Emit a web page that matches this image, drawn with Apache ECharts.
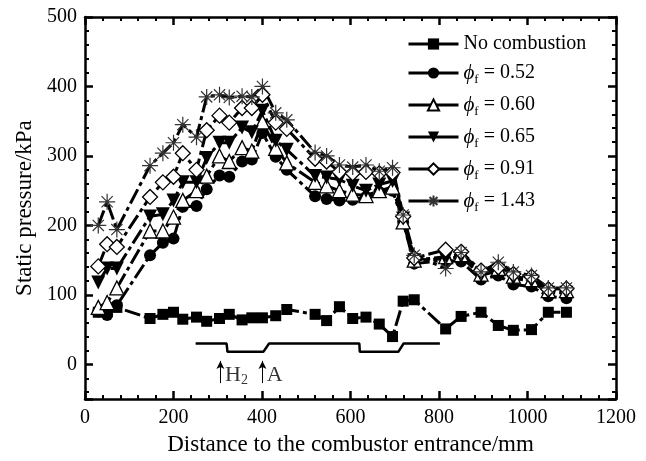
<!DOCTYPE html>
<html><head><meta charset="utf-8">
<script src="https://cdn.jsdelivr.net/npm/echarts@6/dist/echarts.min.js"></script>
<style>html,body{margin:0;padding:0;background:#fff}#c{width:646px;height:461px}</style>
</head><body><div id="c"></div>
<script>
// ---- data ----
const xPos = [30,50,72,147,176,200,221,252,275,304,326,355,377,401,431,456,520,546,575,605,635,665,695,719,744,815,850,895,934,968,1009,1047,1088];
const noComb = [75,76,82,66,72,75,65,68,62,66,72,64,67,67,70,79,72,63,83,66,68,58,40,91,93,51,69,75,56,49,50,75,75];
const phi052 = [76,71,85,157,175,181,227,228,252,272,270,292,295,333,299,280,242,238,236,237,241,248,250,205,145,150,148,122,128,115,112,98,95];
const phi060 = [82,89,110,192,192,212,236,250,271,300,292,312,307,349,311,290,262,257,250,245,243,250,255,205,150,155,158,130,138,127,122,106,106];
const phi065 = [118,138,138,213,216,236,262,262,297,319,319,341,334,365,322,309,271,269,266,257,250,259,264,210,150,152,155,128,135,124,120,103,103];
const phi091 = [141,173,169,241,262,270,304,280,337,358,348,369,369,388,348,339,296,292,277,275,277,275,276,213,153,165,162,135,140,130,126,108,109];
const phi143 = [200,234,194,286,304,319,345,327,385,388,384,386,385,400,362,352,305,300,287,284,287,278,283,215,157,138,161,133,147,133,128,110,110];
const geomX = [250,320,322,403,416,620,621,708,720,802];
const geomY = [30,30,18,18,30,30,18,18,30,30];
const seriesNames = ['No combustion','0.52','0.60','0.65','0.91','1.43'];
const xTicks = [0,200,400,600,800,1000,1200];
const yTicks = [0,100,200,300,400,500];

const F = '"Liberation Serif","Times New Roman",serif';
const chart = echarts.init(document.getElementById('c'));
const pairs = (xs, ys) => xs.map((x, i) => [x, ys[i]]);
const lineStyle = {color:'#000', width:3, type:[16,4,4,4]};
const starPath = 'path://M10 0L10 20M0 10L20 10M3 3L17 17M3 17L17 3';

function mk(name, ys, symbol, size, fill, extra) {
  return Object.assign({
    name: name, type:'line', data: pairs(xPos, ys),
    symbol: symbol, symbolSize: size,
    lineStyle: lineStyle,
    itemStyle: {color: fill, borderColor:'#000', borderWidth: fill === '#000' ? 0 : 1.3},
    color:'#000', z: 3, animation:false
  }, extra || {});
}

const axisCommon = {
  axisLine:{show:true, onZero:false, lineStyle:{color:'#000', width:2.5}},
  axisTick:{show:true, inside:true, length:8, lineStyle:{color:'#000', width:2.5}},
  minorTick:{show:true, splitNumber:5, length:4, lineStyle:{color:'#000', width:2}},
  splitLine:{show:false}
};
const labelStyle = {color:'#000', fontFamily:F, fontSize:20};

const option = {
  animation:false,
  backgroundColor:'#fff',
  grid:{left:85, right:30, top:17, bottom:53},
  xAxis:[
    Object.assign({type:'value', min:xTicks[0], max:xTicks[xTicks.length-1], interval:200, position:'bottom',
      axisLabel:Object.assign({margin:9, formatter:v => String(v)}, labelStyle),
      name:'Distance to the combustor entrance/mm', nameLocation:'middle', nameGap:31,
      nameTextStyle:{color:'#000', fontFamily:F, fontSize:23}}, axisCommon),
    Object.assign({type:'value', min:0, max:1200, interval:200, position:'top', axisLabel:{show:false}}, axisCommon)
  ],
  yAxis:[
    Object.assign({type:'value', min:-50, max:500, splitNumber:5, position:'left',
      axisLabel:Object.assign({margin:8, formatter:v => yTicks.indexOf(v) >= 0 ? String(v) : ''}, labelStyle),
      name:'Static pressure/kPa', nameLocation:'middle', nameGap:49,
      nameTextStyle:{color:'#000', fontFamily:F, fontSize:23}}, axisCommon),
    Object.assign({type:'value', min:-50, max:500, splitNumber:5, position:'right', axisLabel:{show:false}}, axisCommon)
  ],
  legend:{
    orient:'vertical', left:402, top:29, itemWidth:50, itemHeight:14, itemGap:8.5,
    data: seriesNames,
    lineStyle:{type:'solid', width:3},
    formatter: n => n === 'No combustion' ? '{t|No combustion}' : '{p|\u03D5}{s|f}{t| = ' + n + '}',
    textStyle:{color:'#000', fontFamily:F, fontSize:20, rich:{
      t:{fontFamily:F, fontSize:20, lineHeight:26, color:'#000'},
      p:{fontFamily:F, fontSize:21, fontStyle:'italic', lineHeight:26, color:'#000'},
      s:{fontFamily:F, fontSize:13, lineHeight:12, verticalAlign:'bottom', color:'#000'}
    }}
  },
  series:[
    mk(seriesNames[0], noComb, 'rect', 11, '#000'),
    mk(seriesNames[1], phi052, 'circle', 12, '#000'),
    mk(seriesNames[2], phi060, 'triangle', 14, '#fff'),
    mk(seriesNames[3], phi065, 'triangle', 14, '#000', {symbolRotate:180}),
    mk(seriesNames[4], phi091, 'diamond', 15, '#fff'),
    mk(seriesNames[5], phi143, starPath, 16, '#fff', {itemStyle:{color:'#fff', borderColor:'#333', borderWidth:1.2}}),
    {type:'line', name:'geom', data: pairs(geomX, geomY), symbol:'none', lineStyle:{color:'#000', width:2.5}, z:2, animation:false},
    {type:'scatter', name:'annot', symbolSize:1, itemStyle:{color:'rgba(0,0,0,0)'}, z:4, animation:false,
      data:[
        {value:[311,-16], label:{show:true, position:'right', distance:2, formatter:'{h|H}{s|2}'}},
        {value:[405,-16], label:{show:true, position:'right', distance:2, formatter:'{h|A}'}}
      ],
      label:{color:'#000', rich:{
        h:{fontFamily:F, fontSize:22, lineHeight:24, color:'#000'},
        s:{fontFamily:F, fontSize:14, lineHeight:12, verticalAlign:'bottom', color:'#000'}
      }},
      markLine:{silent:true, symbol:['none','arrow'], symbolSize:[6,8], label:{show:false},
        lineStyle:{color:'#000', width:1, type:'solid'},
        data:[
          [{coord:[306,-27]},{coord:[306,5]}],
          [{coord:[401,-27]},{coord:[401,5]}]
        ]}
    }
  ]
};
chart.setOption(option);
</script></body></html>
